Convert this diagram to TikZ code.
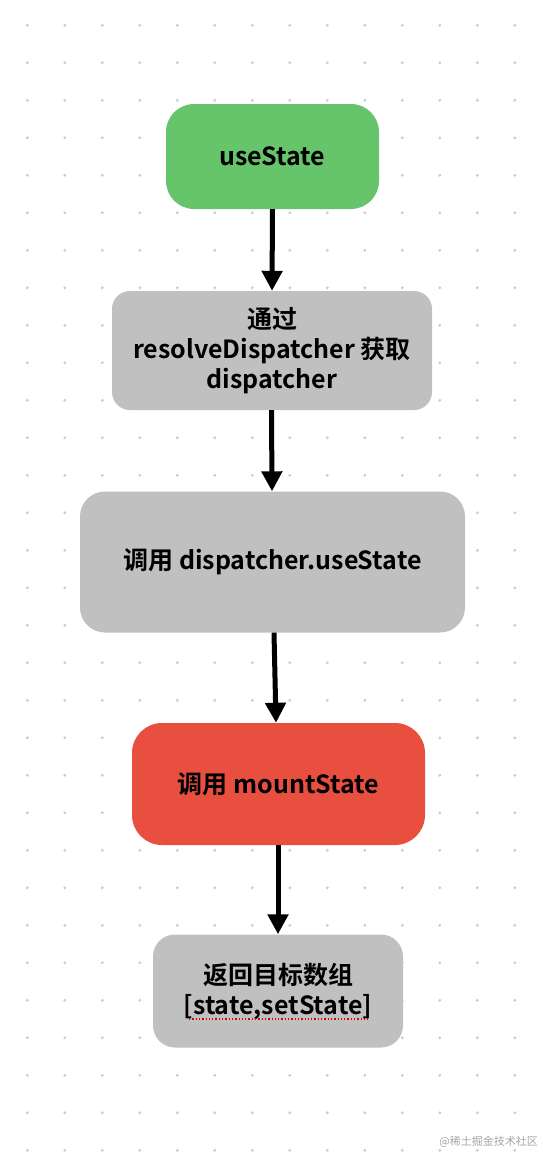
\documentclass[tikz,border=0pt]{standalone}
\usepackage{fontspec}
\setmainfont{Noto Sans CJK SC Bold}
\newfontfamily\wmfont{Noto Sans CJK SC}
\usetikzlibrary{arrows.meta}
\definecolor{gboxgreen}{HTML}{66C46B}
\definecolor{gboxgray}{HTML}{C0C0C0}
\definecolor{gboxred}{HTML}{E84F3F}
\definecolor{dotgray}{HTML}{CCCCCC}
\tikzset{
  flowbox/.style={rounded corners=#1, align=center, inner sep=0pt, text=black,
    font=\fontsize{25}{30}\selectfont},
  flowarrow/.style={line width=5pt, -{Triangle[width=20pt,length=20pt]}},
}
\begin{document}
\begin{tikzpicture}[x=1pt,y=-1pt]
\useasboundingbox (0,0) rectangle (542,1154);
\fill[white] (0,0) rectangle (542,1154);
\foreach \i in {0,...,13}{
  \foreach \j in {0,...,30}{
    \fill[dotgray] (27.3+37.5*\i, 25.3+37.5*\j) circle (1.6pt);
  }
}
\node[flowbox=28pt, fill=gboxgreen, minimum width=213pt, minimum height=105pt] (n1) at (272.5,156.5) {useState};
\node[flowbox=18pt, fill=gboxgray, minimum width=320pt, minimum height=119pt] (n2) at (272,350.5) {通过\\resolveDispatcher 获取\\dispatcher};
\node[flowbox=25pt, fill=gboxgray, minimum width=385pt, minimum height=141pt] (n3) at (272.5,562) {调用 dispatcher.useState};
\node[flowbox=30pt, fill=gboxred, minimum width=293pt, minimum height=122pt] (n4) at (278.5,784) {调用 mountState};
\node[flowbox=22pt, fill=gboxgray, minimum width=250pt, minimum height=113pt] (n5) at (278,991) {返回目标数组\\{[}state,setState{]}};
\draw[red!85!black, dotted, line width=1.3pt] ([xshift=-89pt,yshift=-28pt]n5.center) -- ([xshift=90pt,yshift=-28pt]n5.center);
\draw[flowarrow] (n1.south) -- (n2.north);
\draw[flowarrow] ([xshift=-0.5pt]n2.south) -- ([xshift=-0.5pt]n3.north);
\draw[flowarrow] ([xshift=1.5pt]n3.south) -- ([xshift=-2.5pt]n4.north);
\draw[flowarrow] ([xshift=-0.5pt]n4.south) -- (n5.north);
\node[anchor=east, text=black!35, font=\wmfont\fontsize{11}{13}\selectfont, inner sep=0pt] (wm) at (538,1142) {@稀土掘金技术社区};
\end{tikzpicture}
\end{document}
